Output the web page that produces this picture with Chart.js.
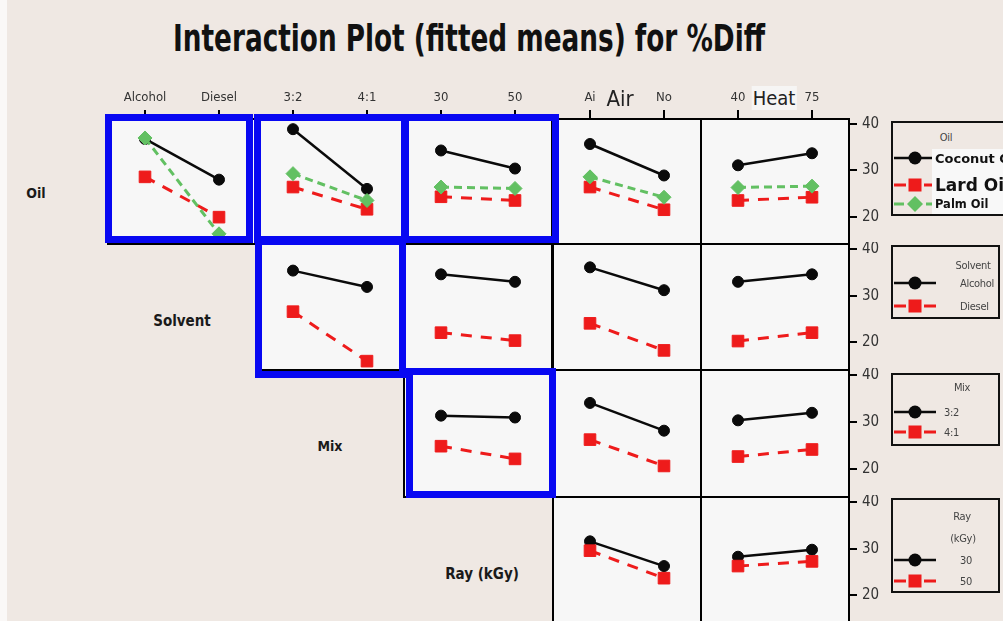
<!DOCTYPE html>
<html>
<head>
<meta charset="utf-8">
<script src="https://cdn.jsdelivr.net/npm/chart.js@4.4.1/dist/chart.umd.min.js"></script>
<style>
  html, body { margin: 0; padding: 0; }
  body {
    width: 1003px; height: 621px; overflow: hidden; position: relative;
    background: #efe8e3;
    font-family: 'DejaVu Sans Condensed', 'Liberation Sans Narrow', 'DejaVu Sans', sans-serif;
  }
  .abs { position: absolute; }
  #edge { left: 0; top: 0; width: 7px; height: 621px; background: #faf8f7; }
  #title { top: 14px; left: 0; font-weight: bold; font-size: 38px; color: #111; white-space: nowrap;
           transform-origin: 0 50%; line-height: 48px; }
  .rowname { transform: translate(-50%, -50%); color: #1a1a1a; font-weight: 600; font-size: 14px; white-space: nowrap; }
  .colname { transform: translate(-50%, -50%); color: #222; white-space: nowrap; }
  .legend { border: 2px solid #111; box-sizing: border-box; background: #efe8e3; overflow: hidden; }
  .lg-text { transform: translate(-50%, -50%); color: #444; font-size: 11px; white-space: nowrap; letter-spacing: -0.3px; }
  .lg-label { transform: translateY(-50%); white-space: nowrap; }
  .blue { border: 7px solid #0808f2; box-sizing: border-box; z-index: 5; }
</style>
</head>
<body>
<div id="edge" class="abs"></div>
<div id="title" class="abs">Interaction Plot (fitted means) for %Diff</div>

<script>
// ---- factor levels ----
const oilLevels = ['Coconut Oil', 'Lard Oil', 'Palm Oil'];
const solventLevels = ['Alcohol', 'Diesel'];
const mixLevels = ['3:2', '4:1'];
const rayLevels = ['30', '50'];
const airLevels = ['Ai', 'No'];
const heatLevels = ['40', '75'];
const yTicks = [20, 30, 40];

// ---- fitted means of %Diff, one row per level of the trace factor ----
const oilBySolvent  = [[36.8, 28.0], [28.6, 19.9], [37.0, 16.3]];
const oilByMix      = [[38.9, 26.0], [26.4, 21.6], [29.3, 23.5]];
const oilByRay      = [[34.3, 30.4], [24.3, 23.5], [26.4, 26.1]];
const oilByAir      = [[35.7, 28.9], [26.4, 21.5], [28.6, 24.2]];
const oilByHeat     = [[31.1, 33.7], [23.5, 24.2], [26.3, 26.6]];
const solventByMix  = [[35.4, 31.9], [26.6, 16.0]];
const solventByRay  = [[34.6, 33.0], [22.1, 20.4]];
const solventByAir  = [[36.1, 31.2], [24.1, 18.3]];
const solventByHeat = [[33.0, 34.6], [20.3, 22.1]];
const mixByRay      = [[31.4, 31.0], [24.9, 22.2]];
const mixByAir      = [[34.1, 28.2], [26.3, 20.7]];
const mixByHeat     = [[30.4, 32.0], [22.7, 24.2]];
const rayByAir      = [[31.6, 26.3], [29.6, 23.7]];
const rayByHeat     = [[28.3, 29.8], [26.3, 27.3]];

// matrix layout: rows = trace factors, columns = x factors
const rowLevels = [oilLevels, solventLevels, mixLevels, rayLevels];
const colLevels = [solventLevels, mixLevels, rayLevels, airLevels, heatLevels];
const cells = [
  [oilBySolvent, oilByMix, oilByRay, oilByAir, oilByHeat],
  [null, solventByMix, solventByRay, solventByAir, solventByHeat],
  [null, null, mixByRay, mixByAir, mixByHeat],
  [null, null, null, rayByAir, rayByHeat]
];

// ---- geometry ----
const colLeft = [108, 256, 404, 553, 701];
const colWidth = 148;
const rowTop = [119, 244, 370, 497];
const rowHeight = [125, 126, 127, 126];
const Y_MIN = 14.1, Y_MAX = 41.1;
const TOP_AXIS = 40, RIGHT_AXIS = 42, EDGE = 2;

const condensed = "'DejaVu Sans Condensed', 'Liberation Sans Narrow', 'DejaVu Sans', sans-serif";

const traceStyles = [
  { color: '#0a0a0a', point: 'circle',  radius: 5.5, width: 2.5, dash: [] },
  { color: '#ee1b1b', point: 'rect',    radius: 8.2, width: 3,   dash: [11, 9] },
  { color: '#62c062', point: 'rectRot', radius: 7,   width: 3,   dash: [8, 5] }
];

// light panel face plus black frame around each plotting area
const panelFrame = {
  id: 'panelFrame',
  beforeDraw(chart) {
    const { ctx, chartArea: a } = chart;
    ctx.save();
    ctx.fillStyle = '#f7f7f7';
    ctx.fillRect(a.left, a.top, a.width, a.height);
    ctx.restore();
  },
  beforeDatasetsDraw(chart) {
    const { ctx, chartArea: a } = chart;
    ctx.save();
    ctx.strokeStyle = '#000';
    ctx.lineWidth = 2;
    ctx.strokeRect(a.left, a.top, a.width, a.height);
    ctx.restore();
  }
};

function makePanel(r, c) {
  const top = r === 0 ? TOP_AXIS : EDGE;
  const right = c === 4 ? RIGHT_AXIS : EDGE;
  const w = colWidth + EDGE + right;
  const h = rowHeight[r] + top + EDGE;
  const canvas = document.createElement('canvas');
  canvas.width = w; canvas.height = h;
  canvas.className = 'abs';
  canvas.style.left = (colLeft[c] - EDGE) + 'px';
  canvas.style.top = (rowTop[r] - top) + 'px';
  canvas.style.width = w + 'px';
  canvas.style.height = h + 'px';
  document.body.appendChild(canvas);

  const datasets = cells[r][c].map((vals, i) => {
    const s = traceStyles[i];
    return {
      label: rowLevels[r][i],
      data: vals,
      borderColor: s.color,
      backgroundColor: s.color,
      borderWidth: s.width,
      borderDash: s.dash,
      pointStyle: s.point,
      pointRadius: s.radius,
      pointBorderWidth: 1,
      pointBackgroundColor: s.color,
      pointBorderColor: s.color,
      tension: 0,
      clip: false
    };
  }).reverse();

  new Chart(canvas, {
    type: 'line',
    data: { labels: colLevels[c], datasets },
    options: {
      responsive: false,
      animation: false,
      devicePixelRatio: 1,
      events: [],
      layout: {
        autoPadding: false,
        padding: { left: EDGE, bottom: EDGE, top: r === 0 ? 0 : EDGE, right: c === 4 ? 0 : EDGE }
      },
      plugins: { legend: { display: false }, tooltip: { enabled: false } },
      scales: {
        x: {
          type: 'category',
          position: 'top',
          offset: true,
          display: r === 0,
          grid: { drawOnChartArea: false, drawTicks: true, tickLength: 9, color: '#000', lineWidth: 2, offset: false },
          border: { display: false },
          ticks: { color: '#333', font: { family: condensed, size: 13 }, padding: 5, maxRotation: 0, autoSkip: false },
          afterFit(s) { if (s.options.display) { s.height = TOP_AXIS; s.paddingLeft = 0; s.paddingRight = 0; } }
        },
        y: {
          type: 'linear',
          position: 'right',
          min: Y_MIN,
          max: Y_MAX,
          display: c === 4,
          afterBuildTicks(s) { s.ticks = yTicks.map(v => ({ value: v })); },
          grid: { drawOnChartArea: false, drawTicks: true, tickLength: 8, color: '#000', lineWidth: 2 },
          border: { display: false },
          ticks: { color: '#333', font: { family: condensed, size: 15 }, padding: 5 },
          afterFit(s) { if (s.options.display) { s.width = RIGHT_AXIS; s.paddingTop = 0; s.paddingBottom = 0; } }
        }
      }
    },
    plugins: [panelFrame]
  });
}

for (let r = 0; r < cells.length; r++) {
  for (let c = 0; c < cells[r].length; c++) {
    if (cells[r][c]) makePanel(r, c);
  }
}

// ---- text placed around the matrix ----
function addText(cls, text, x, y, style) {
  const d = document.createElement('div');
  d.className = 'abs ' + cls;
  d.textContent = text;
  d.style.left = x + 'px';
  d.style.top = y + 'px';
  if (style) Object.assign(d.style, style);
  document.body.appendChild(d);
  return d;
}

// factor names on the diagonal
addText('rowname', 'Oil', 36, 193);
addText('rowname', 'Solvent', 182, 321, { fontSize: '15px' });
addText('rowname', 'Mix', 330, 446);
addText('rowname', 'Ray (kGy)', 482, 574, { fontSize: '15px' });
// names of the two x factors without a diagonal cell
addText('colname', 'Air', 620, 98, { fontSize: '22px' });
addText('colname', 'Heat', 774, 98, { fontSize: '20px', background: '#f6f5f4', padding: '0 1px', lineHeight: '24px' });

// title scaled to its span
const title = document.getElementById('title');
const tw = title.getBoundingClientRect().width;
title.style.left = '173px';
title.style.transform = 'scaleX(' + (592 / tw).toFixed(4) + ')';

// ---- highlight frames ----
const highlights = [
  [105, 114, 148, 129],
  [254, 114, 154, 129],
  [402, 114, 157, 129],
  [255, 238, 151, 140],
  [406, 368, 150, 130]
];
highlights.forEach(([x, y, w, h]) => {
  const d = document.createElement('div');
  d.className = 'abs blue';
  Object.assign(d.style, { left: x + 'px', top: y + 'px', width: w + 'px', height: h + 'px' });
  document.body.appendChild(d);
});

// ---- legends ----
function swatch(i) {
  const s = traceStyles[i];
  const c = s.color;
  let line, mark;
  if (i === 0) {
    line = `<line x1="0" y1="9" x2="42" y2="9" stroke="${c}" stroke-width="2.5"/>`;
    mark = `<circle cx="21" cy="9" r="6.5" fill="${c}"/>`;
  } else if (i === 1) {
    line = `<line x1="0" y1="9" x2="42" y2="9" stroke="${c}" stroke-width="3" stroke-dasharray="12 18"/>`;
    mark = `<rect x="14.5" y="2.5" width="13" height="13" fill="${c}"/>`;
  } else {
    line = `<line x1="0" y1="9" x2="42" y2="9" stroke="${c}" stroke-width="3" stroke-dasharray="10 22"/>`;
    mark = `<polygon points="21,1 29,9 21,17 13,9" fill="${c}"/>`;
  }
  return `<svg width="42" height="18" viewBox="0 0 42 18">${line}${mark}</svg>`;
}

function addLegend(box, titleLines, levels, rowsY, labelX, labelStyles) {
  const d = document.createElement('div');
  d.className = 'abs legend';
  Object.assign(d.style, { left: box[0] + 'px', top: box[1] + 'px', width: box[2] + 'px', height: box[3] + 'px' });
  document.body.appendChild(d);
  titleLines.forEach(([t, x, y]) => addText('lg-text', t, x, y, { zIndex: 2 }));
  levels.forEach((lv, i) => {
    const sw = document.createElement('div');
    sw.className = 'abs';
    sw.innerHTML = swatch(i);
    Object.assign(sw.style, { left: '894px', top: (rowsY[i] - 9) + 'px', zIndex: 2, lineHeight: 0 });
    document.body.appendChild(sw);
    const st = Object.assign({ zIndex: 3, color: '#444', fontSize: '11px', letterSpacing: '-0.3px' }, labelStyles ? labelStyles[i] : {});
    addText('lg-label', lv, labelX, rowsY[i], st);
  });
}

// oil legend with its bold label block
const oilBack = document.createElement('div');
oilBack.className = 'abs';
Object.assign(oilBack.style, { left: '932px', top: '149px', width: '80px', height: '65px', background: '#f8f8f8', zIndex: 2 });
addLegend([891, 121, 122, 95], [['Oil', 946, 137]], oilLevels, [158, 185, 204], 935, [
  { fontWeight: 'bold', fontSize: '13px', color: '#111', letterSpacing: '0', fontFamily: "'DejaVu Sans', sans-serif" },
  { fontWeight: 'bold', fontSize: '17px', color: '#111', letterSpacing: '0', fontFamily: "'DejaVu Sans', sans-serif" },
  { fontWeight: 'bold', fontSize: '11.5px', color: '#111', letterSpacing: '0', fontFamily: "'DejaVu Sans', sans-serif" }
]);
document.body.appendChild(oilBack);

addLegend([891, 245, 109, 74], [['Solvent', 973, 265]], solventLevels, [283, 306], 960);
addLegend([891, 373, 109, 73], [['Mix', 962, 387]], mixLevels, [412, 432], 944);
addLegend([891, 498, 109, 95], [['Ray', 962, 516], ['(kGy)', 963, 538]], rayLevels, [560, 581], 960);
</script>
</body>
</html>
